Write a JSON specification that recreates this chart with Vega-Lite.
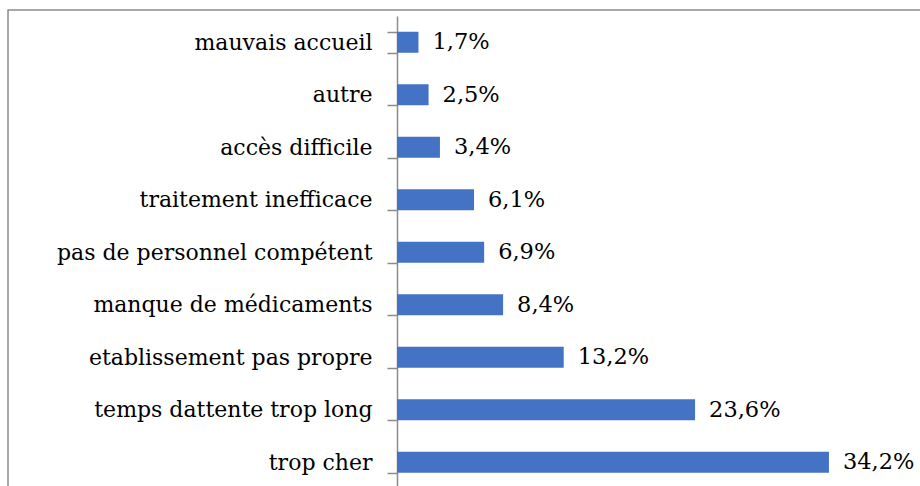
{
  "$schema": "https://vega.github.io/schema/vega-lite/v6.json",
  "autosize": "none",
  "padding": {"left": 8, "top": 10, "right": 0, "bottom": 0},
  "width": 930,
  "height": 484,
  "background": "white",
  "config": {"view": {"stroke": "#8c8c8c", "strokeWidth": 1.5}},
  "data": {"values": [
    {"cause": "mauvais accueil", "value": 1.7, "label": "1,7%"},
    {"cause": "autre", "value": 2.5, "label": "2,5%"},
    {"cause": "accès difficile", "value": 3.4, "label": "3,4%"},
    {"cause": "traitement inefficace", "value": 6.1, "label": "6,1%"},
    {"cause": "pas de personnel compétent", "value": 6.9, "label": "6,9%"},
    {"cause": "manque de médicaments", "value": 8.4, "label": "8,4%"},
    {"cause": "etablissement pas propre", "value": 13.2, "label": "13,2%"},
    {"cause": "temps dattente trop long", "value": 23.6, "label": "23,6%"},
    {"cause": "trop cher", "value": 34.2, "label": "34,2%"}
  ]},
  "encoding": {
    "y": {
      "field": "cause", "type": "nominal", "sort": {"field": "value", "order": "ascending"},
      "scale": {"range": [6, 478.5], "paddingInner": 0.6, "paddingOuter": 0.3},
      "axis": {
        "title": null, "offset": -389, "tickBand": "extent",
        "domainColor": "#8c8c8c", "domainWidth": 1.5, "tickColor": "#8c8c8c", "tickWidth": 1.5, "tickSize": 10,
        "labelPadding": 15, "labelFont": "DejaVu Serif", "labelFontSize": 22, "labelColor": "#000000", "labelLimit": 600
      }
    },
    "x": {
      "field": "value", "type": "quantitative",
      "scale": {"domain": [0, 40], "range": [389, 894.2], "nice": false, "zero": true},
      "axis": null
    }
  },
  "layer": [
    {"mark": {"type": "bar", "color": "#4472C4"}},
    {"mark": {"type": "text", "align": "left", "dx": 14, "font": "DejaVu Serif", "fontSize": 22.5, "color": "#000000"},
     "encoding": {"text": {"field": "label"}}}
  ]
}
